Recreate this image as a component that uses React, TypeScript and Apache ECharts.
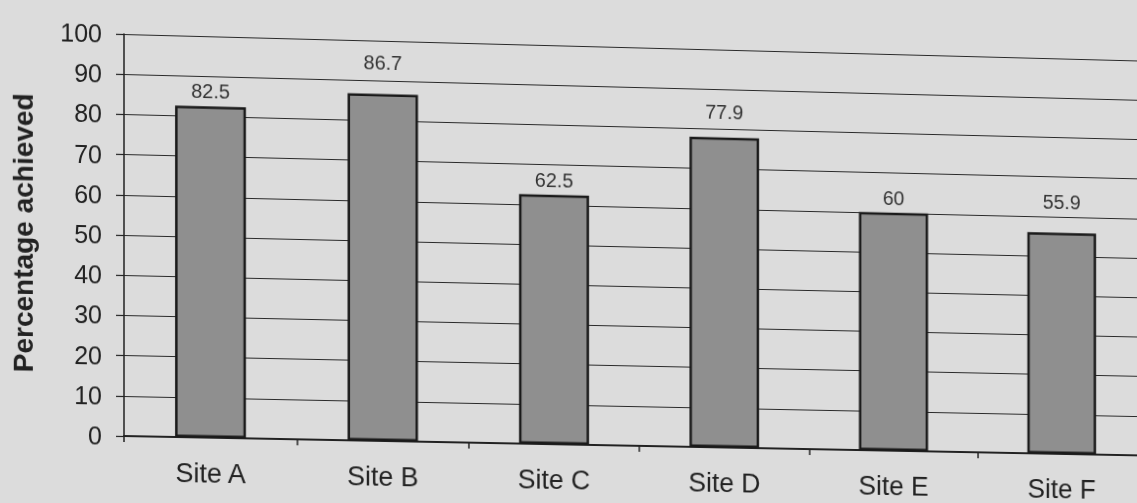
import React, { useEffect, useRef } from "react";
import * as echarts from "echarts";

const categories = ["Site A", "Site B", "Site C", "Site D", "Site E", "Site F"];
const percentages = [82.5, 86.7, 62.5, 77.9, 60, 55.9];
const yMin = 0;
const yMax = 100;
const yStep = 10;
const yAxisTitle = "Percentage achieved";

const FONT = "'Liberation Sans', Arial, sans-serif";
const INK = "#222222";
// label gap above each bar, as placed in the original
const LABEL_GAP = [5, 21, 5, 16, 5, 21];
// slight perspective of the scanned page
const SLOPE = 0.02669;
const PERSP = 1.7475e-5;

export default function App() {
  const ref = useRef<HTMLDivElement>(null);
  useEffect(() => {
    const chart = echarts.init(ref.current!, null, { renderer: "svg" });
    chart.setOption({
      animation: false,
      backgroundColor: "#dcdcdc",
      grid: { left: 124, right: 16, top: 34, bottom: 67 },
      xAxis: {
        type: "category",
        data: categories,
        axisLine: { show: true, lineStyle: { color: INK, width: 2 } },
        axisTick: { show: true, length: 6, lineStyle: { color: INK, width: 1.5 } },
        axisLabel: { fontSize: 27, color: INK, margin: 22, fontFamily: FONT },
        splitLine: { show: false },
      },
      yAxis: {
        type: "value",
        min: yMin,
        max: yMax,
        interval: yStep,
        name: yAxisTitle,
        nameLocation: "middle",
        nameGap: 86,
        nameTextStyle: { fontSize: 28, fontWeight: "bold", color: INK, fontFamily: FONT },
        axisLine: { show: true, lineStyle: { color: INK, width: 1.5 } },
        axisTick: { show: true, length: 8, lineStyle: { color: INK, width: 1.2 } },
        axisLabel: { fontSize: 25, color: INK, margin: 22, fontFamily: FONT },
        splitLine: { show: true, lineStyle: { color: "#2a2a2a", width: 1.2 } },
      },
      series: [
        {
          type: "bar",
          data: percentages.map((v, i) => ({ value: v, label: { distance: LABEL_GAP[i] } })),
          barWidth: "41%",
          itemStyle: { color: "#8f8f8f", borderColor: "#1a1a1a", borderWidth: 2.5 },
          label: {
            show: true,
            position: "top",
            fontSize: 20,
            color: "#333333",
            fontFamily: FONT,
          },
        },
      ],
    });
    return () => chart.dispose();
  }, []);
  return (
    <div
      style={{
        position: "fixed",
        left: 0,
        top: 0,
        width: 1137,
        height: 503,
        overflow: "hidden",
        background: "#dcdcdc",
      }}
    >
      <div
        ref={ref}
        style={{
          position: "absolute",
          left: 0,
          top: 0,
          width: 1180,
          height: 503,
          transformOrigin: "123px 0px",
          transform: `matrix3d(1, ${SLOPE}, 0, ${PERSP}, 0, 1, 0, 0, 0, 0, 1, 0, 0, 0, 0, 1)`,
        }}
      />
    </div>
  );
}
